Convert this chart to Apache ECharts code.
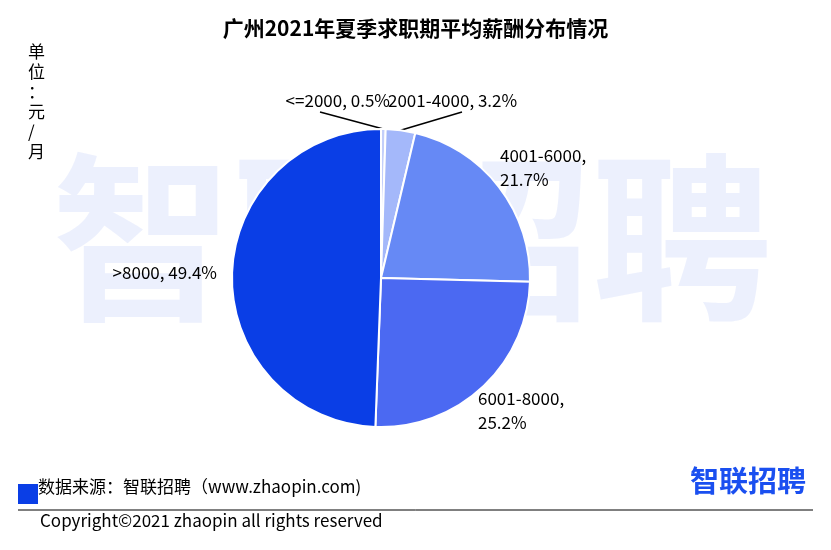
<!DOCTYPE html>
<html><head><meta charset="utf-8">
<script src="https://cdn.jsdelivr.net/npm/echarts@6/dist/echarts.min.js"></script>
<style>body{margin:0}#main{width:831px;height:550px}</style>
</head><body><div id="main"></div>
<script>
var categories = ['<=2000', '2001-4000', '4001-6000', '6001-8000', '>8000'];
var values = [0.5, 3.2, 21.7, 25.2, 49.4];
var colors = ['#c3cffa', '#a4b8fa', '#6689f5', '#4b69f2', '#0a3ee6'];
var labelText = ['<=2000, 0.5%', '2001-4000, 3.2%', '4001-6000,\n21.7%', '6001-8000,\n25.2%', '>8000, 49.4%'];
// label anchor spots (text placement only)
var labelSpots = [[390, 101, 'right'], [388, 101, 'left'], [500, 168, 'left'], [478, 411, 'left'], [217, 273, 'right']];
var leaderEnds = [[320, 112], [462, 112]];

var font = 'Noto Sans CJK SC';
var data = [];
for (var i = 0; i < categories.length; i++) {
	data.push({
		name: categories[i],
		value: values[i],
		itemStyle: {color: colors[i]},
		label: {formatter: labelText[i]},
		labelLine: {show: i < 2}
	});
}

var chart = echarts.init(document.getElementById('main'));
chart.setOption({
	backgroundColor: '#fff',
	textStyle: {fontFamily: font},
	title: {
		text: '广州2021年夏季求职期平均薪酬分布情况',
		left: 'center', top: 13,
		textStyle: {fontSize: 21, fontWeight: 'bold', color: '#000', fontFamily: font}
	},
	graphic: [
		{type: 'text', left: 52, top: 148, z: -10, style: {text: '智联招聘', font: 'bold 180px "Noto Sans CJK SC"', fill: 'rgba(228,233,252,0.7)'}},
		{type: 'text', left: 28, top: 42, style: {text: '单\n位\n：\n元\n/\n月', font: '17px "Noto Sans CJK SC"', fill: '#000', lineHeight: 20}},
		{type: 'rect', left: 18, top: 484, shape: {width: 20, height: 20}, style: {fill: '#0a3ee6'}},
		{type: 'text', left: 38, top: 478, style: {text: '数据来源：智联招聘（www.zhaopin.com)', font: '17px "Noto Sans CJK SC"', fill: '#000'}},
		{type: 'text', right: 25, top: 466, style: {text: '智联招聘', font: 'bold 29px "Noto Sans CJK SC"', fill: '#1a4ff0'}},
		{type: 'line', shape: {x1: 18, y1: 510, x2: 813, y2: 510}, style: {stroke: '#000', lineWidth: 1}},
		{type: 'text', left: 40, top: 512, style: {text: 'Copyright©2021 zhaopin all rights reserved', font: '17px "Noto Sans CJK SC"', fill: '#000'}}
	],
	series: [{
		type: 'pie',
		center: [381, 278],
		radius: 149,
		startAngle: 90,
		clockwise: true,
		itemStyle: {borderColor: '#fff', borderWidth: 2},
		label: {show: true, position: 'outside', color: '#000', fontSize: 17, lineHeight: 24, fontFamily: font},
		labelLine: {length: 10, length2: 10, lineStyle: {color: '#000', width: 1.5}},
		labelLayout: function (p) {
			var s = labelSpots[p.dataIndex];
			var out = {x: s[0], y: s[1], align: s[2], verticalAlign: 'middle', moveOverlap: false};
			if (p.dataIndex < 2 && p.labelLinePoints) {
				var a = p.labelLinePoints[0];
				out.labelLinePoints = [a, a, leaderEnds[p.dataIndex]];
			}
			return out;
		},
		data: data
	}]
});
</script></body></html>
